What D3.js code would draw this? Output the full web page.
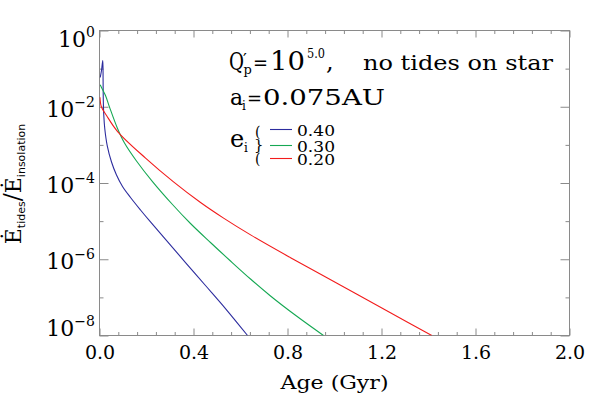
<!DOCTYPE html>
<html><head><meta charset="utf-8">
<script src="https://cdn.jsdelivr.net/npm/d3@7"></script>
<style>body{margin:0;background:#fff}svg{display:block}</style>
</head><body>
<svg id="c" width="599" height="399"></svg>
<script>
// ---- data ----
const agesE040  = [0.003, 0.0085, 0.014, 0.0153, 0.0162, 0.0183, 0.0226, 0.0328, 0.0511, 0.0723, 0.0979, 0.132, 0.1745, 0.217, 0.281, 0.366, 0.451, 0.536, 0.630];
const ratioE040 = [5.85e-2, 8.93e-2, 1.63e-1, 4.89e-2, 1.46e-2, 5.9e-3, 2.61e-3, 9.6e-4, 3.56e-4, 1.62e-4, 8.1e-5, 4.17e-5, 1.96e-5, 9.5e-6, 3.3e-6, 8.2e-7, 2.05e-7, 5.1e-8, 1.0e-8];
const agesE030  = [0.003, 0.0128, 0.0255, 0.0426, 0.0766, 0.1064, 0.1574, 0.2255, 0.3106, 0.3872, 0.4723, 0.5574, 0.6426, 0.7277, 0.8383, 0.9532];
const ratioE030 = [3.77e-2, 2.83e-2, 1.97e-2, 9.8e-3, 2.7e-3, 1.12e-3, 3.78e-4, 1.09e-4, 2.73e-5, 8.67e-6, 2.75e-6, 9.0e-7, 3.03e-7, 1.09e-7, 3.24e-8, 1.0e-8];
const agesE020  = [0.002, 0.008, 0.030, 0.077, 0.196, 0.315, 0.430, 0.528, 0.643, 0.813, 1.026, 1.238, 1.414];
const ratioE020 = [1.78e-2, 1.0e-2, 5.9e-3, 2.24e-3, 4.5e-4, 1.07e-4, 3.08e-5, 1.2e-5, 4.36e-6, 1.1e-6, 2.08e-7, 3.96e-8, 1.0e-8];
const seriesLabels = ["0.40", "0.30", "0.20"];
const seriesColors = ["#2c2c9e", "#16a853", "#f21c1c"];
const xMajorTicks = [0, 0.4, 0.8, 1.2, 1.6, 2.0];
const xTickLabels = ["0.0", "0.4", "0.8", "1.2", "1.6", "2.0"];
const xMinorTicks = [0.08,0.16,0.24,0.32,0.48,0.56,0.64,0.72,0.88,0.96,1.04,1.12,1.28,1.36,1.44,1.52,1.68,1.76,1.84,1.92];
const yMajorTicks = [1, 1e-2, 1e-4, 1e-6, 1e-8];
const yTickExponents = ["0", "\u22122", "\u22124", "\u22126", "\u22128"];
const yMinorTicks = [1e-1, 1e-3, 1e-5, 1e-7];

const series = [
  {label: seriesLabels[0], color: seriesColors[0], pts: agesE040.map((a,i)=>[a, ratioE040[i]])},
  {label: seriesLabels[1], color: seriesColors[1], pts: agesE030.map((a,i)=>[a, ratioE030[i]])},
  {label: seriesLabels[2], color: seriesColors[2], pts: agesE020.map((a,i)=>[a, ratioE020[i]])}
];

// ---- layout ----
const L = 99.5, R = 569.5, T = 30.5, B = 335.5;
const AX = "#8a8a8a";
const SERIF = "DejaVu Serif";
const SANS = "DejaVu Sans";
const svg = d3.select("#c");
svg.append("rect").attr("width", 599).attr("height", 399).attr("fill", "#fff");

const x = d3.scaleLinear().domain([0, 2]).range([L, R]);
const y = d3.scaleLog().domain([1e-8, 1]).range([B, T]);

svg.append("clipPath").attr("id", "clip").append("rect")
  .attr("x", L).attr("y", T).attr("width", R - L).attr("height", B - T);

function styleAxis(g) {
  g.select(".domain").remove();
  g.selectAll(".tick line").attr("stroke", AX).attr("stroke-width", 1);
}
svg.append("g").attr("transform", `translate(0,${B})`)
  .call(d3.axisBottom(x).tickValues(xMajorTicks).tickSize(-7).tickFormat((d,i)=>xTickLabels[i]).tickPadding(23))
  .call(styleAxis)
  .call(g => g.selectAll("text").attr("font-family", SERIF).attr("font-size", 19).attr("fill", "#000").attr("dy", 0));
svg.append("g").attr("transform", `translate(0,${B})`)
  .call(d3.axisBottom(x).tickValues(xMinorTicks).tickSize(-3.5).tickFormat(""))
  .call(styleAxis);
svg.append("g").attr("transform", `translate(0,${T})`)
  .call(d3.axisTop(x).tickValues(xMajorTicks).tickSize(-7).tickFormat(""))
  .call(styleAxis);
svg.append("g").attr("transform", `translate(0,${T})`)
  .call(d3.axisTop(x).tickValues(xMinorTicks).tickSize(-3.5).tickFormat(""))
  .call(styleAxis);
svg.append("g").attr("transform", `translate(${L},0)`)
  .call(d3.axisLeft(y).tickValues(yMajorTicks).tickSize(-9).tickFormat(""))
  .call(styleAxis);
svg.append("g").attr("transform", `translate(${L},0)`)
  .call(d3.axisLeft(y).tickValues(yMinorTicks).tickSize(-4).tickFormat(""))
  .call(styleAxis);
svg.append("g").attr("transform", `translate(${R},0)`)
  .call(d3.axisRight(y).tickValues(yMajorTicks).tickSize(-9).tickFormat(""))
  .call(styleAxis);
svg.append("g").attr("transform", `translate(${R},0)`)
  .call(d3.axisRight(y).tickValues(yMinorTicks).tickSize(-4).tickFormat(""))
  .call(styleAxis);

svg.append("rect").attr("x", L).attr("y", T).attr("width", R - L).attr("height", B - T)
  .attr("fill", "none").attr("stroke", AX).attr("stroke-width", 1);

// y tick labels with superscripts
yMajorTicks.forEach((v, i) => {
  const base = Math.max(T + 16.5, Math.min(B, y(v) + 10));
  const t = svg.append("text").attr("x", 95).attr("y", base).attr("text-anchor", "end")
    .attr("font-family", SERIF).attr("fill", "#000");
  t.append("tspan").attr("font-size", 22).text("10");
  t.append("tspan").attr("font-size", 14).attr("dy", -10).text(yTickExponents[i]);
});

// x title
svg.append("text").attr("x", (L + R) / 2 - 54).attr("y", 389)
  .attr("font-family", SERIF).attr("font-size", 18).attr("fill", "#000")
  .attr("textLength", 108).attr("lengthAdjust", "spacingAndGlyphs").text("Age (Gyr)");

// y title
const yt = svg.append("text").attr("transform", "translate(21,184) rotate(-90)")
  .attr("text-anchor", "middle").attr("font-family", SERIF).attr("fill", "#000");
yt.append("tspan").attr("font-size", 22).text("\u0116");
yt.append("tspan").attr("font-size", 11).attr("font-family", SANS).attr("dy", 4).text("tides");
yt.append("tspan").attr("font-size", 24).attr("dy", -4).text("/");
yt.append("tspan").attr("font-size", 22).text("\u0116");
yt.append("tspan").attr("font-size", 11).attr("font-family", SANS).attr("dy", 4).text("insolation");

// curves
const line = d3.line().x(d => x(d[0])).y(d => y(d[1])).curve(d3.curveCatmullRom.alpha(0.5));
svg.append("g").attr("clip-path", "url(#clip)").selectAll("path").data(series).join("path")
  .attr("d", d => line(d.pts)).attr("fill", "none").attr("stroke", d => d.color).attr("stroke-width", 1.1);

// annotations
function txt(s, xx, yy, size, opts = {}) {
  const t = svg.append("text").attr("x", xx).attr("y", yy).attr("font-family", opts.family || SERIF)
    .attr("font-size", size).attr("fill", "#000").text(s);
  if (opts.len) t.attr("textLength", opts.len).attr("lengthAdjust", "spacingAndGlyphs");
  return t;
}
txt("Q", 229, 70, 25, {len: 15});
txt("\u2032", 243, 65, 17);
txt("p", 243.5, 74, 13);
txt("=", 253, 70, 21, {len: 15});
txt("10", 270, 70, 26, {len: 35});
txt("5.0", 307, 58, 13, {len: 18});
txt(",", 326, 70, 24);
txt("no tides on star", 363, 70, 20, {len: 190});

txt("a", 230, 105, 22);
txt("i", 242, 110, 12);
txt("=", 247, 105, 19, {len: 15});
txt("0.075AU", 263, 105, 23, {len: 122});

txt("e", 230, 147, 24);
txt("i", 244, 152, 12);
txt("(", 255, 137, 14);
txt("}", 254, 150, 15);
txt("(", 255, 164, 14);

// legend
series.forEach((s, i) => {
  const ly = [129.5, 145.5, 158.5][i];
  svg.append("line").attr("x1", 270).attr("x2", 292).attr("y1", ly).attr("y2", ly)
    .attr("stroke", s.color).attr("stroke-width", 1.1);
  txt(s.label, 297, ly + 6, 15, {len: 38});
});
</script>
</body></html>
